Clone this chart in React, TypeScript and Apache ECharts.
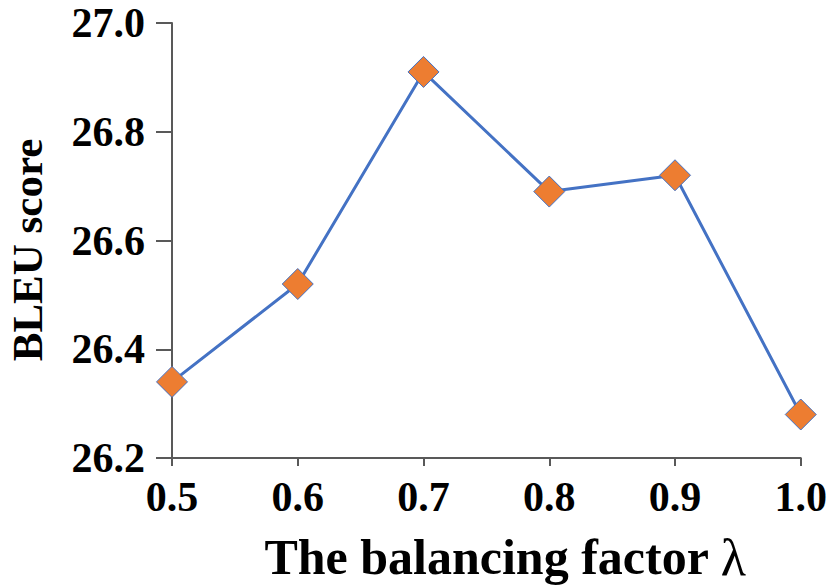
import React, { useEffect, useRef } from "react";
import * as echarts from "echarts";

const categories = ["0.5", "0.6", "0.7", "0.8", "0.9", "1.0"];
const bleuScores = [26.34, 26.52, 26.91, 26.69, 26.72, 26.28];
const yMin = 26.2;
const yMax = 27.0;
const yInterval = 0.2;
const xTitleMain = "The balancing factor ";
const xTitleSymbol = "λ";
const yTitle = "BLEU score";

const FONT = "'Liberation Serif', 'Times New Roman', serif";
const AXIS_COLOR = "#595959";

export default function App() {
  const ref = useRef<HTMLDivElement>(null);
  useEffect(() => {
    if (!ref.current) return;
    const chart = echarts.init(ref.current, null, { renderer: "svg" });
    chart.setOption({
      animation: false,
      backgroundColor: "#ffffff",
      grid: { left: 172, right: 22, top: 23, bottom: 130, containLabel: false },
      xAxis: {
        type: "category",
        data: categories,
        boundaryGap: false,
        axisLine: { show: true, lineStyle: { color: AXIS_COLOR, width: 2 } },
        axisTick: { show: true, alignWithLabel: true, length: 8, lineStyle: { color: AXIS_COLOR, width: 2 } },
        axisLabel: { margin: 18, color: "#000", fontFamily: FONT, fontWeight: "bold", fontSize: 42 },
        splitLine: { show: false },
      },
      yAxis: {
        type: "value",
        min: yMin,
        max: yMax,
        interval: yInterval,
        axisLine: { show: true, lineStyle: { color: AXIS_COLOR, width: 2 } },
        axisTick: { show: true, length: 16, lineStyle: { color: AXIS_COLOR, width: 2 } },
        axisLabel: {
          margin: 27,
          color: "#000",
          fontFamily: FONT,
          fontWeight: "bold",
          fontSize: 42,
          formatter: (v: number) => v.toFixed(1),
        },
        splitLine: { show: false },
      },
      graphic: [
        {
          type: "text",
          x: 505,
          y: 557,
          style: {
            text: `{b|${xTitleMain}}{n|${xTitleSymbol}}`,
            fill: "#000",
            textAlign: "center",
            textVerticalAlign: "middle",
            rich: {
              b: { fontFamily: FONT, fontWeight: "bold", fontSize: 50, fill: "#000" },
              n: { fontFamily: FONT, fontWeight: "normal", fontSize: 52, fill: "#000" },
            },
          },
        },
        {
          type: "text",
          x: 27,
          y: 250,
          rotation: Math.PI / 2,
          style: {
            text: yTitle,
            fill: "#000",
            font: `bold 43px ${FONT}`,
            textAlign: "center",
            textVerticalAlign: "middle",
          },
        },
      ],
      series: [
        {
          type: "line",
          data: bleuScores,
          symbol: "diamond",
          symbolSize: 31,
          lineStyle: { color: "#4472C4", width: 3 },
          itemStyle: { color: "#ED7D31", borderColor: "#4472C4", borderWidth: 1 },
        },
      ],
    });
    return () => chart.dispose();
  }, []);
  return (
    <div
      ref={ref}
      style={{ position: "fixed", left: 0, top: 0, width: 830, height: 588, background: "#fff" }}
    />
  );
}
